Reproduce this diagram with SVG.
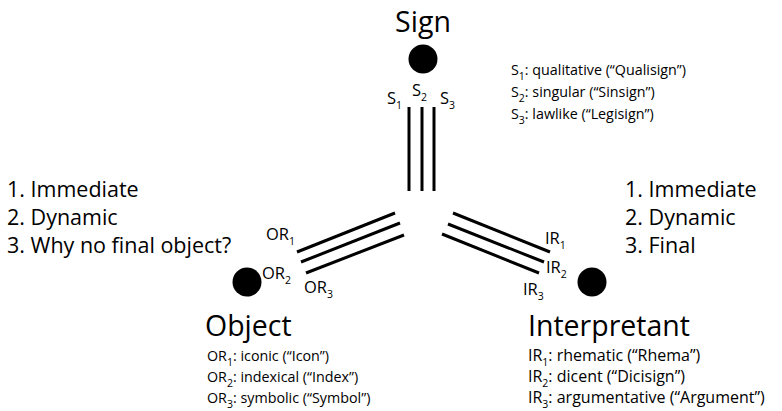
<svg xmlns="http://www.w3.org/2000/svg" width="782" height="411" viewBox="0 0 782 411">
  <style>
    text { font-family: "Open Sans", "Noto Sans", sans-serif; fill: #000; }
    .title { font-size: 28.5px; }
    .list { font-size: 21.5px; }
    .desc { font-size: 14.3px; }
    .desc-ir { font-size: 16px; }
    .lbl { font-size: 16.5px; }
    .sub { font-size: 10.5px; }
    .dot { fill: #000; }
    .bar { stroke: #000; stroke-width: 3; fill: none; }
  </style>
  <rect width="782" height="411" fill="#fff"/>

  <!-- connectors: three parallel strands per relation -->
  <g id="connectors">
    <g id="sign-strands">
      <line class="bar" x1="409" y1="107" x2="409" y2="191"/>
      <line class="bar" x1="422" y1="107" x2="422" y2="191"/>
      <line class="bar" x1="434" y1="107" x2="434" y2="191"/>
    </g>
    <g id="object-strands">
      <line class="bar" x1="297" y1="252" x2="395" y2="213"/>
      <line class="bar" x1="301" y1="262" x2="400" y2="223"/>
      <line class="bar" x1="306" y1="273" x2="404" y2="235"/>
    </g>
    <g id="interpretant-strands">
      <line class="bar" x1="453" y1="213" x2="550" y2="252"/>
      <line class="bar" x1="448" y1="224" x2="544" y2="262"/>
      <line class="bar" x1="442" y1="234" x2="539" y2="273"/>
    </g>
  </g>

  <!-- Sign -->
  <g id="sign">
    <text class="title" x="423" y="32" text-anchor="middle">Sign</text>
    <circle class="dot" cx="423" cy="59" r="14.5"/>
    <text class="lbl" x="387" y="104">S<tspan class="sub" dy="5">1</tspan></text>
    <text class="lbl" x="412" y="96">S<tspan class="sub" dy="5">2</tspan></text>
    <text class="lbl" x="440" y="104">S<tspan class="sub" dy="5">3</tspan></text>
    <text class="desc" x="511" y="75">S<tspan class="sub" dy="5">1</tspan><tspan dy="-5">: qualitative (“Qualisign”)</tspan></text>
    <text class="desc" x="511" y="97">S<tspan class="sub" dy="5">2</tspan><tspan dy="-5">: singular (“Sinsign”)</tspan></text>
    <text class="desc" x="511" y="119">S<tspan class="sub" dy="5">3</tspan><tspan dy="-5">: lawlike (“Legisign”)</tspan></text>
  </g>

  <!-- Object -->
  <g id="object">
    <circle class="dot" cx="247" cy="282" r="14.5"/>
    <text class="lbl" x="266" y="240">OR<tspan class="sub" dy="5">1</tspan></text>
    <text class="lbl" x="262" y="279">OR<tspan class="sub" dy="5">2</tspan></text>
    <text class="lbl" x="304" y="293">OR<tspan class="sub" dy="5">3</tspan></text>
    <text class="list" x="7" y="197">1. Immediate</text>
    <text class="list" x="7" y="225">2. Dynamic</text>
    <text class="list" x="7" y="253">3. Why no final object?</text>
    <text class="title" x="205" y="336">Object</text>
    <text class="desc" x="207" y="361">OR<tspan class="sub" dy="5">1</tspan><tspan dy="-5">: iconic (“Icon”)</tspan></text>
    <text class="desc" x="207" y="382">OR<tspan class="sub" dy="5">2</tspan><tspan dy="-5">: indexical (“Index”)</tspan></text>
    <text class="desc" x="207" y="403">OR<tspan class="sub" dy="5">3</tspan><tspan dy="-5">: symbolic (“Symbol”)</tspan></text>
  </g>

  <!-- Interpretant -->
  <g id="interpretant">
    <circle class="dot" cx="592" cy="282" r="14.5"/>
    <text class="lbl" x="545" y="244">IR<tspan class="sub" dy="5">1</tspan></text>
    <text class="lbl" x="546" y="273">IR<tspan class="sub" dy="5">2</tspan></text>
    <text class="lbl" x="523" y="295">IR<tspan class="sub" dy="5">3</tspan></text>
    <text class="list" x="625" y="197">1. Immediate</text>
    <text class="list" x="625" y="225">2. Dynamic</text>
    <text class="list" x="625" y="253">3. Final</text>
    <text class="title" x="528" y="336">Interpretant</text>
    <text class="desc-ir" x="528" y="361">IR<tspan class="sub" dy="5">1</tspan><tspan dy="-5">: rhematic (“Rhema”)</tspan></text>
    <text class="desc-ir" x="528" y="382">IR<tspan class="sub" dy="5">2</tspan><tspan dy="-5">: dicent (“Dicisign”)</tspan></text>
    <text class="desc-ir" x="528" y="403">IR<tspan class="sub" dy="5">3</tspan><tspan dy="-5">: argumentative (“Argument”)</tspan></text>
  </g>
</svg>
